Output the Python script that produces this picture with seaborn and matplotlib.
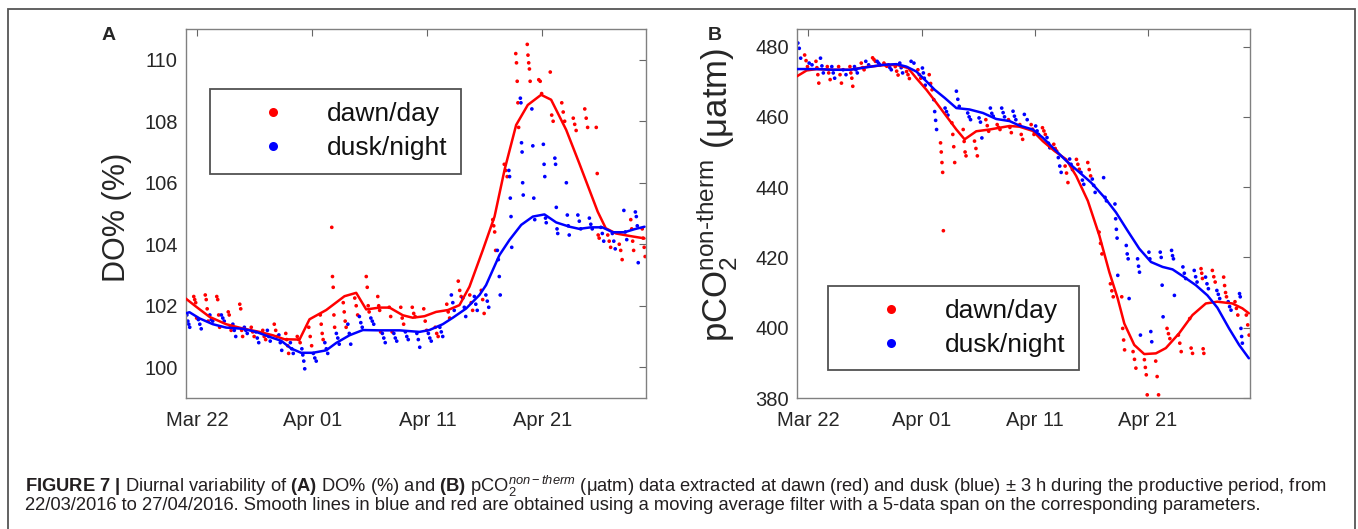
import numpy as np
import pandas as pd
import matplotlib
matplotlib.use("Agg")
import matplotlib.pyplot as plt
import matplotlib.dates as mdates
from matplotlib.lines import Line2D
from matplotlib.patches import Rectangle
import seaborn as sns

# ---- data (days counted from 2016-03-22, one streak per day) ----
streak_days = list(range(-1, 39))

A_dawn_pts = [
    [102.3, 102.2, 102.1, 101.6], [102.35, 102.2, 101.9, 101.5], [102.3, 102.2, 101.7, 101.3],
    [101.8, 101.7, 101.3, 101.2], [102.05, 101.9, 101.2, 101.0], [101.3, 101.15, 101.0],
    [101.2, 101.0, 100.9], [101.4, 101.2, 101.0], [101.1, 100.9, 100.7, 100.45],
    [101.0, 100.9, 100.8], [101.3, 101.0, 100.7], [101.7, 101.4, 101.1, 100.9],
    [104.55, 102.95, 102.6, 101.7, 101.3], [102.1, 101.8, 101.5, 101.3], [102.25, 102.0, 101.7],
    [102.95, 102.6, 102.0, 101.8], [102.3, 102.0, 101.85, 101.15], [101.95, 101.65, 101.15],
    [101.95, 101.6, 101.4], [101.95, 101.75, 101.65], [101.9, 101.5, 101.2],
    [101.3, 101.1, 101.0], [102.05, 101.8, 101.6], [102.8, 102.5, 102.3],
    [102.35, 102.1, 101.85], [102.5, 102.2, 101.75], [104.8, 104.6, 104.4, 103.8],
    [106.6, 106.4, 106.2], [110.2, 109.9, 109.3, 108.6, 107.8], [110.5, 110.15, 109.9, 109.7, 109.3],
    [109.35, 109.3, 108.9], [109.6, 108.2, 108.0], [108.6, 108.3, 108.0],
    [108.1, 107.9, 107.7], [108.4, 108.1, 107.8], [107.8, 106.3, 104.3, 104.2],
    [104.3, 104.1, 103.9], [104.0, 103.8, 103.5], [104.8, 104.5, 104.1, 103.8],
    [104.5, 104.2, 103.9, 103.6],
]
A_dusk_pts = [
    [101.7, 101.5, 101.4, 101.3], [101.55, 101.4, 101.25], [101.7, 101.55, 101.5],
    [101.7, 101.6, 101.5], [101.4, 101.2, 101.0], [101.3, 101.2, 101.1],
    [101.15, 100.95, 100.8], [101.2, 101.0, 100.85], [101.05, 100.8, 100.55],
    [100.8, 100.6, 100.45], [100.6, 100.4, 100.2, 99.95], [100.45, 100.3, 100.2],
    [100.8, 100.6, 100.45], [101.1, 100.95, 100.75], [101.4, 101.1, 100.75],
    [101.65, 101.45, 101.3], [101.6, 101.5, 101.4], [101.1, 100.95, 100.8],
    [101.1, 100.95, 100.85], [101.15, 101.0, 100.9], [101.1, 100.9, 100.65],
    [101.1, 100.95, 100.85], [101.3, 101.15, 101.0], [102.35, 102.1, 101.85],
    [102.25, 101.95, 101.65], [102.3, 102.05, 101.85], [102.35, 102.15, 101.95],
    [103.8, 103.5, 102.95, 102.35], [106.4, 106.2, 105.5, 104.9, 103.9],
    [108.75, 108.6, 107.3, 107.0, 106.0, 105.6], [108.4, 107.2, 105.5, 104.8],
    [107.25, 106.6, 106.2, 104.85, 104.7], [106.8, 106.6, 105.2, 104.5, 104.35],
    [106.0, 104.95, 104.6, 104.3], [104.95, 104.75, 104.5], [104.85, 104.65, 104.5],
    [104.55, 104.35, 104.1], [104.35, 104.1, 103.85], [105.1, 104.4, 104.15],
    [105.05, 104.9, 104.6, 103.4],
]
B_dawn_pts = [
    [477.6, 476.0, 474.3], [475.8, 474.0, 472.0, 469.6], [474.3, 472.5, 470.6],
    [474.3, 472.0, 469.6], [474.3, 472.5, 471.0, 468.7], [475.3, 474.0, 473.4],
    [476.8, 476.3, 475.8], [475.3, 474.8, 474.4], [474.3, 473.0, 471.9],
    [472.9, 472.0, 470.9], [473.4, 472.0, 471.0], [472.0, 469.5, 467.7],
    [452.6, 450.0, 447.0, 444.2, 427.6], [458.3, 455.0, 451.5, 447.0], [456.4, 453.0, 450.0, 448.9],
    [453.1, 451.0, 448.9], [459.2, 457.5, 455.9], [457.8, 457.0, 456.4],
    [459.2, 457.0, 455.5], [457.8, 455.0, 453.6], [457.8, 456.5, 455.0],
    [456.9, 456.0, 455.0], [452.2, 451.0, 450.3], [446.0, 444.0, 441.3],
    [447.9, 446.5, 445.1], [447.0, 445.0, 443.2], [427.2, 424.0, 421.0],
    [412.5, 410.5, 408.8], [408.8, 399.8, 396.5, 393.7], [393.2, 391.0, 388.5],
    [390.9, 388.7, 386.6, 380.9], [390.5, 386.1, 380.9], [399.8, 398.3, 396.9],
    [397.9, 395.6, 393.2], [402.6, 394.2, 392.7], [416.8, 415.5, 414.0, 394.0, 392.7],
    [416.3, 414.5, 413.0], [414.4, 412.0, 410.0, 408.8], [407.4, 405.5, 403.6],
    [403.6, 400.8, 397.9],
]
B_dusk_pts = [
    [481.0, 479.5, 476.7], [475.3, 474.8], [476.7, 474.5, 472.5],
    [474.3, 472.5, 471.0], [473.4, 472.0], [474.3, 473.4, 472.5],
    [475.8, 474.8], [475.8, 475.3, 474.8], [474.8, 474.0, 473.4],
    [475.3, 474.0, 472.5], [475.8, 475.3], [473.9, 472.5, 471.0, 469.0],
    [464.9, 461.5, 459.0, 456.4], [462.5, 461.5, 460.5], [467.3, 465.0, 463.0],
    [461.1, 460.0, 459.2], [459.7, 458.5, 454.0], [462.5, 461.0, 460.2],
    [462.5, 461.2, 460.0], [461.6, 460.2, 459.2], [460.7, 459.2],
    [457.4, 456.0, 455.0], [454.1, 452.5, 451.2], [448.4, 446.0, 444.2],
    [448.0, 446.5, 445.0], [444.2, 442.0, 440.8], [442.3, 440.5, 438.5],
    [442.7, 437.1, 436.1], [435.2, 431.0, 428.0, 425.5, 414.9], [423.4, 421.0, 419.6, 408.3],
    [419.6, 417.5, 415.8, 397.9], [421.5, 419.6, 398.9, 396.0], [421.5, 420.0, 412.1, 403.1],
    [422.0, 420.5, 419.6, 409.2], [417.3, 415.5, 414.0], [416.3, 414.5, 413.0],
    [414.4, 412.5, 411.1], [410.6, 409.5, 408.3], [407.4, 406.0, 405.0],
    [409.7, 408.8, 399.8, 397.5, 395.6],
]

# smoothed (moving average) lines
A_dawn_line_x = [-1.04, -0.12, 1.04, 2.49, 3.94, 5.39, 6.55, 7.57, 8.87, 9.74, 11.19, 12.78, 13.8, 14.67,
                 15.83, 16.7, 17.86, 18.72, 19.74, 20.75, 21.77, 22.78, 23.65, 24.81, 25.83, 26.7, 27.71,
                 28.72, 29.88, 30.75, 32.06, 33.2, 34.8, 35.5, 36.4, 37.57, 38.87]
A_dawn_line_y = [102.24, 101.97, 101.64, 101.4, 101.26, 101.15, 101.04, 100.91, 100.9, 101.56, 101.86,
                 102.31, 102.42, 101.88, 101.94, 101.94, 101.69, 101.61, 101.66, 101.8, 101.86, 102.02,
                 102.62, 103.81, 104.9, 106.42, 107.88, 108.53, 108.86, 108.7, 107.72, 106.63, 105.06,
                 104.52, 104.35, 104.27, 104.19]
A_dusk_line_x = [-1.04, -0.7, 0.17, 1.33, 2.49, 3.94, 5.1, 6.26, 7.28, 8.14, 9.01, 10.03, 11.19, 12.06,
                 13.22, 14.38, 15.83, 17.57, 19.3, 20.17, 21.33, 22.2, 23.36, 24.52, 25.09, 26.26, 27.13,
                 28.15, 29.16, 30.17, 31.19, 32.35, 33.2, 34.2, 35.2, 36.11, 37.13, 38.0, 38.87]
A_dusk_line_y = [101.75, 101.79, 101.59, 101.4, 101.29, 101.25, 101.15, 100.99, 100.86, 100.61, 100.47,
                 100.47, 100.55, 100.79, 101.04, 101.21, 101.2, 101.2, 101.15, 101.21, 101.4, 101.61,
                 101.91, 102.35, 102.67, 103.65, 104.14, 104.63, 104.9, 104.97, 104.71, 104.57, 104.5,
                 104.55, 104.55, 104.39, 104.39, 104.49, 104.57]
B_dawn_line_x = [-1.03, -0.15, 0.73, 2.2, 3.67, 5.14, 6.61, 7.78, 8.81, 9.54, 10.43, 11.31, 12.19, 13.07,
                 13.8, 14.83, 16.0, 17.77, 18.65, 19.82, 20.7, 21.73, 22.77, 23.65, 24.68, 25.7, 26.58,
                 27.32, 27.9, 28.78, 29.66, 30.69, 31.57, 32.74, 33.92, 35.1, 36.12, 37.44, 38.33, 38.9]
B_dawn_line_y = [471.5, 473.2, 473.6, 473.4, 473.4, 474.2, 474.7, 474.8, 473.9, 471.0, 467.7, 464.0,
                 460.2, 456.4, 453.6, 455.9, 456.4, 457.4, 457.2, 456.0, 453.1, 450.3, 447.9, 443.2,
                 436.1, 426.2, 415.8, 408.3, 401.2, 395.1, 392.5, 392.7, 394.2, 398.4, 403.6, 406.9,
                 407.4, 406.9, 405.5, 404.1]
B_dusk_line_x = [-1.03, 0.73, 2.2, 3.67, 5.14, 6.61, 7.78, 8.66, 9.54, 10.43, 11.16, 12.04, 13.07, 14.24,
                 15.42, 16.59, 17.77, 18.65, 19.82, 20.7, 21.73, 22.77, 23.94, 24.97, 26.14, 27.17, 28.19,
                 29.22, 30.26, 31.28, 32.16, 33.19, 34.22, 35.24, 36.12, 37.15, 38.04, 38.9]
B_dusk_line_y = [473.6, 473.6, 473.4, 473.4, 474.1, 474.8, 475.0, 474.3, 472.9, 470.1, 467.7, 465.4,
                 462.5, 462.1, 461.1, 459.4, 458.8, 457.5, 456.4, 454.1, 450.8, 447.5, 444.2, 441.3,
                 437.1, 432.8, 427.6, 422.5, 418.7, 417.3, 416.6, 414.4, 412.1, 409.2, 405.7, 399.8,
                 395.1, 391.3]

series_names = ["dawn/day", "dusk/night"]
series_colors = {"dawn/day": "#ff0000", "dusk/night": "#0000ff"}
streak_offset = {"dawn/day": 0.8, "dusk/night": 0.2}   # time of day of each streak
start = pd.Timestamp("2016-03-22")


def to_date(days):
    return start + pd.to_timedelta(np.asarray(days, dtype=float), unit="D")


def points_frame(dawn, dusk):
    rows = []
    for name, pts in zip(series_names, [dawn, dusk]):
        for d, vals in zip(streak_days, pts):
            hours = np.linspace(-3, 3, len(vals)) if len(vals) > 1 else [0]
            for h, v in zip(hours, vals):
                rows.append((d + streak_offset[name] + h / 24.0, v, name))
    df = pd.DataFrame(rows, columns=["day", "value", "series"])
    df["date"] = to_date(df["day"])
    return df


def line_frame(dawn_x, dawn_y, dusk_x, dusk_y):
    df = pd.concat([
        pd.DataFrame({"day": dawn_x, "value": dawn_y, "series": "dawn/day"}),
        pd.DataFrame({"day": dusk_x, "value": dusk_y, "series": "dusk/night"}),
    ], ignore_index=True)
    df["date"] = to_date(df["day"])
    return df


ptsA = points_frame(A_dawn_pts, A_dusk_pts)
ptsB = points_frame(B_dawn_pts, B_dusk_pts)
lineA = line_frame(A_dawn_line_x, A_dawn_line_y, A_dusk_line_x, A_dusk_line_y)
lineB = line_frame(B_dawn_line_x, B_dawn_line_y, B_dusk_line_x, B_dusk_line_y)

# ---- style ----
sns.set_theme(style="white")
plt.rcParams["font.family"] = ["Liberation Sans", "DejaVu Sans"]
plt.rcParams["mathtext.fontset"] = "custom"
plt.rcParams["mathtext.rm"] = "Liberation Sans"
plt.rcParams["mathtext.it"] = "Liberation Sans:italic"
plt.rcParams["mathtext.bf"] = "Liberation Sans:bold"

fig = plt.figure(figsize=(13.58, 5.29), dpi=100)
axA = fig.add_axes([186 / 1358, 131 / 529, 460 / 1358, 369 / 529])
axB = fig.add_axes([797 / 1358, 131 / 529, 453 / 1358, 369 / 529])

panels = [
    (axA, ptsA, lineA, (99, 111), np.arange(100, 111, 2), "DO% (%)", 22, (-0.117, 0.49), (0.052, 0.837)),
    (axB, ptsB, lineB, (380, 485), np.arange(380, 481, 20),
     "pCO$_2^{\\mathregular{non‐therm}}$ (μatm)", 25, (-0.128, 0.55), (0.068, 0.304)),
]

for ax, pts, lines, ylim, yticks, ylabel, ylsize, ylpos, leg_anchor in panels:
    sns.scatterplot(data=pts, x="date", y="value", hue="series", palette=series_colors,
                    s=7, linewidth=0, legend=False, ax=ax, zorder=2)
    sns.lineplot(data=lines, x="date", y="value", hue="series", palette=series_colors,
                 estimator=None, sort=False, linewidth=1.8, legend=False, ax=ax, zorder=3)
    ax.set_xlim(to_date([-1.0])[0], to_date([39.0])[0])
    ax.set_ylim(*ylim)
    ax.set_yticks(yticks)
    ax.set_xticks(to_date([0, 10, 20, 30]))
    ax.xaxis.set_major_formatter(mdates.DateFormatter("%b %d"))
    ax.set_xlabel("")
    ax.set_ylabel(ylabel, fontsize=ylsize, color="#262626")
    ax.yaxis.set_label_coords(*ylpos)
    ax.tick_params(direction="in", length=5, width=0.8, color="#666666", top=True, right=True,
                   labelsize=14.5, labelcolor="#262626")
    ax.tick_params(axis="x", pad=9)
    ax.tick_params(axis="y", pad=6)
    for sp in ax.spines.values():
        sp.set_color("#808080")
        sp.set_linewidth(1.0)

    handles = [Line2D([], [], linestyle="none", marker="o", markersize=6.5,
                      markerfacecolor=series_colors[n], markeredgewidth=0) for n in series_names]
    leg = ax.legend(handles, series_names, loc="upper left", bbox_to_anchor=leg_anchor,
                    fontsize=19, frameon=True, fancybox=False, borderpad=0.5,
                    handlelength=3.8, handletextpad=0.15, labelspacing=0.38, borderaxespad=0)
    leg.get_frame().set_edgecolor("#262626")
    leg.get_frame().set_linewidth(1.3)
    for t in leg.get_texts():
        t.set_color("#111111")

fig.text(109 / 1358, 1 - 35 / 529, "A", fontsize=14, fontweight="bold", ha="center", va="center")
fig.text(715 / 1358, 1 - 36 / 529, "B", fontsize=14, fontweight="bold", ha="center", va="center")

cap1 = (r"$\mathbf{FIGURE\ 7\ |}$ Diurnal variability of $\mathbf{(A)}$ DO% (%) and $\mathbf{(B)}$ "
        r"pCO$_2^{\mathit{non-therm}}$ (μatm) data extracted at dawn (red) and dusk (blue) ± 3 h "
        r"during the productive period, from")
cap2 = ("22/03/2016 to 27/04/2016. Smooth lines in blue and red are obtained using a moving "
        "average filter with a 5-data span on the corresponding parameters.")
fig.text(25 / 1358, 1 - 486 / 529, cap1, fontsize=13.2, color="#231f20", va="center", ha="left")
fig.text(25 / 1358, 1 - 505 / 529, cap2, fontsize=13.2, color="#231f20", va="center", ha="left")

fig.patches.append(Rectangle((8 / 1358, -0.05), 1347 / 1358, 1 - 9 / 529 + 0.05,
                             transform=fig.transFigure, fill=False, edgecolor="#555555",
                             linewidth=1.3, clip_on=False))

fig.savefig("out.png", dpi=100)
